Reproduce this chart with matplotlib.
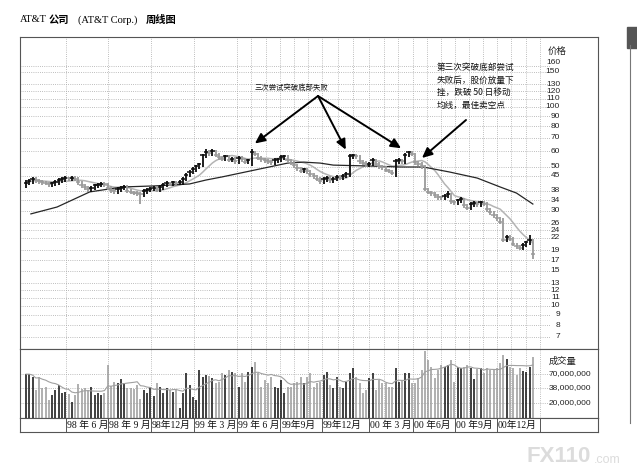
import numpy as np
import pandas as pd
import matplotlib
matplotlib.use("Agg")
import matplotlib.pyplot as plt
from matplotlib.ticker import NullLocator
from matplotlib.lines import Line2D
from matplotlib.patches import Rectangle

CJK = ["Noto Sans CJK SC", "DejaVu Sans"]
SERIF = ["Liberation Serif", "Noto Sans CJK SC"]
NARROW = ["Liberation Sans Narrow", "Liberation Sans", "DejaVu Sans"]

# weekly bars, AT&T, Mar 1998 - Feb 2001
closes = [
    41.5, 42.5, 43.5, 43.0, 42.5, 41.8, 41.5, 41.0, 41.3, 42.0,
    42.8, 43.4, 44.0, 43.7, 44.1, 43.6, 42.0, 40.5, 39.4, 38.5,
    39.3, 40.3, 40.6, 41.2, 41.0, 39.3, 38.1, 37.7, 38.7, 39.3,
    39.7, 37.9, 37.4, 37.0, 36.8, 36.4, 37.7, 38.3, 38.9, 39.3,
    38.7, 39.5, 40.6, 41.5, 41.2, 41.8, 41.5, 42.0, 43.6, 45.7,
    47.2, 48.8, 50.3, 51.4, 57.1, 59.7, 58.7, 60.2, 57.6, 56.1,
    55.0, 56.4, 54.3, 55.0, 53.5, 55.6, 54.5, 53.0, 53.9, 59.2,
    58.1, 55.6, 54.5, 54.1, 53.5, 52.9, 54.1, 54.5, 56.1, 56.4,
    54.0, 52.4, 50.9, 49.3, 47.8, 48.6, 47.4, 46.0, 44.9, 43.6,
    42.5, 43.4, 44.1, 42.7, 43.5, 44.6, 44.1, 45.1, 46.0, 56.6,
    57.1, 56.6, 53.5, 52.4, 51.4, 51.9, 54.0, 51.9, 50.4, 49.8,
    48.3, 47.7, 46.7, 53.5, 54.1, 53.5, 57.6, 59.2, 58.1, 52.9,
    51.9, 50.4, 38.6, 37.4, 36.9, 36.1, 35.3, 35.1, 35.8, 36.3,
    33.7, 33.3, 33.9, 34.5, 32.2, 31.2, 32.5, 32.9, 32.5, 33.1,
    32.7, 30.6, 29.6, 28.5, 27.5, 26.5, 21.5, 22.3, 21.8, 20.5,
    19.9, 19.6, 20.3, 20.9, 21.5, 18.2,
]
highs = [
    43.0, 43.4, 44.4, 44.2, 43.6, 43.1, 42.4, 42.1, 42.1, 42.8,
    43.7, 44.3, 44.9, 44.7, 45.0, 44.8, 44.3, 42.6, 41.1, 40.0,
    40.1, 41.1, 41.4, 42.0, 41.8, 41.6, 39.9, 38.7, 39.5, 40.1,
    40.5, 40.3, 38.5, 38.0, 37.6, 37.4, 38.5, 39.1, 39.7, 40.1,
    39.9, 40.3, 41.4, 42.3, 42.1, 42.6, 42.4, 42.8, 44.5, 46.6,
    48.1, 49.8, 51.3, 52.4, 58.2, 61.5, 60.6, 61.4, 61.1, 58.5,
    56.9, 57.5, 57.2, 56.1, 55.8, 56.7, 56.4, 55.3, 55.0, 61.3,
    60.1, 59.0, 56.4, 55.3, 54.9, 54.3, 55.2, 55.6, 57.2, 57.5,
    57.2, 54.8, 53.2, 51.7, 50.0, 49.6, 49.3, 48.1, 46.7, 45.6,
    44.3, 44.3, 45.0, 44.8, 44.4, 45.5, 45.3, 46.0, 46.9, 57.7,
    58.2, 58.0, 57.4, 54.3, 53.2, 52.9, 55.1, 54.8, 52.7, 51.2,
    50.5, 49.0, 48.4, 54.6, 55.2, 54.9, 58.8, 60.4, 60.1, 59.0,
    53.7, 52.7, 51.2, 39.2, 38.0, 37.5, 36.6, 35.8, 36.5, 37.9,
    36.8, 34.2, 34.6, 35.2, 35.0, 32.7, 33.2, 33.6, 33.4, 33.8,
    33.6, 33.2, 31.1, 30.0, 28.9, 27.9, 27.6, 22.7, 22.6, 22.1,
    20.8, 20.2, 20.7, 21.3, 22.6, 21.8,
]
lows = [
    39.0, 40.3, 41.2, 41.7, 41.2, 40.5, 40.3, 39.8, 39.8, 40.1,
    40.7, 41.5, 42.1, 42.4, 42.4, 42.3, 40.7, 39.3, 38.2, 37.3,
    37.3, 38.1, 39.1, 39.4, 39.8, 38.1, 37.0, 36.6, 36.6, 37.5,
    38.1, 36.8, 36.3, 35.9, 35.7, 32.7, 35.3, 36.6, 37.2, 37.7,
    37.5, 37.5, 38.3, 39.4, 40.0, 40.0, 40.3, 40.3, 40.7, 42.3,
    44.3, 45.8, 47.3, 48.8, 49.9, 55.4, 56.9, 56.9, 55.9, 54.4,
    53.4, 53.4, 52.7, 52.7, 51.9, 51.9, 52.9, 51.4, 51.4, 50.4,
    56.4, 53.9, 52.9, 52.5, 51.9, 51.3, 51.3, 52.5, 52.9, 54.4,
    52.4, 50.8, 49.4, 47.8, 46.4, 46.4, 46.0, 44.6, 43.6, 42.3,
    41.2, 41.2, 42.1, 41.4, 41.4, 42.2, 42.8, 42.8, 43.7, 44.6,
    54.9, 54.9, 51.9, 50.8, 49.9, 49.9, 50.3, 50.3, 48.9, 48.3,
    46.9, 46.3, 45.3, 44.5, 51.9, 51.9, 51.9, 55.9, 56.4, 51.3,
    50.3, 48.9, 38.0, 36.3, 35.8, 35.0, 34.2, 34.0, 34.0, 34.7,
    32.7, 32.3, 32.3, 32.9, 31.2, 30.3, 30.3, 31.5, 31.5, 31.5,
    31.7, 29.7, 28.7, 27.6, 26.7, 25.7, 20.9, 20.9, 21.1, 19.9,
    19.3, 19.0, 19.0, 19.7, 20.3, 17.2,
]
# weekly volume, millions of shares
volumes_m = [
    69, 69, 61, 35, 61, 38, 40, 23, 28, 35,
    43, 31, 32, 29, 21, 28, 45, 37, 38, 35,
    40, 28, 31, 28, 31, 102, 41, 49, 47, 56,
    47, 38, 38, 37, 43, 24, 35, 31, 40, 27,
    47, 40, 31, 38, 35, 32, 35, 16, 31, 72,
    43, 26, 23, 82, 61, 66, 64, 58, 47, 49,
    72, 66, 82, 76, 72, 40, 72, 49, 76, 94,
    116, 72, 40, 54, 47, 61, 40, 38, 54, 31,
    40, 40, 47, 49, 61, 47, 61, 72, 40, 47,
    49, 66, 76, 43, 38, 61, 40, 38, 49, 72,
    89, 61, 47, 31, 35, 58, 72, 35, 54, 47,
    47, 40, 40, 89, 49, 54, 72, 72, 47, 47,
    58, 82, 190, 127, 94, 58, 82, 102, 94, 102,
    127, 49, 94, 89, 94, 102, 89, 56, 86, 89,
    72, 89, 82, 86, 89, 111, 157, 133, 94, 89,
    66, 89, 79, 76, 94, 144,
]
# long moving average (black line), read at these week positions
ma_long_weeks = [1.5, 9.5, 19.5, 29.5, 39.5, 50, 55, 60, 70, 80, 85, 90,
                 94, 104.5, 114.5, 121.5, 129.5, 138, 145, 150, 155]
ma_long_vals = [29.0, 31.4, 37.4, 39.6, 40.1, 41.0, 42.9, 44.5, 48.2, 52.2,
                52.8, 52.2, 51.0, 50.5, 49.9, 49.9, 47.1, 43.9, 39.6, 36.9, 32.5]

price_ticks = [160, 150, 130, 120, 110, 100, 90, 80, 70, 60, 50, 45, 38, 34,
               30, 26, 24, 22, 19, 17, 15, 13, 12, 11, 10, 9, 8, 7]
vol_ticks = [70e6, 38e6, 20e6]
vol_tick_labels = ["70,000,000", "38,000,000", "20,000,000"]

# quarter separators of the date strip (week index)
quarter_pos = [12.2, 25.1, 38.2, 51.4, 64.5, 77.7, 90.5, 104.9, 118.3,
               131.2, 144.0, 157.2]
quarter_labels = ["98 年 6 月", "98 年 9 月", "98年12月", "99 年 3 月",
                  "99 年 6 月", "99年9月", "99年12月", "00 年 3 月",
                  "00 年6月", "00 年9月", "00年12月"]

W, H = 637, 475
fig = plt.figure(figsize=(W / 100, H / 100), dpi=100)


def fx(px):
    return px / W


def fy(py):
    return 1 - py / H


X0, DX = 26.0, 3.27          # pixel of week 0, pixels per week
XLIM = ((20 - X0) / DX, (598 - X0) / DX)
GRID_R = (550 - X0) / DX
FRAME = "#555555"
GRID = dict(colors="#a8a8a8", linestyles=(0, (1, 1.6)), linewidths=0.6, zorder=0)

ax_p = fig.add_axes([fx(20), fy(349), fx(598) - fx(20), fy(37) - fy(349)])
ax_v = fig.add_axes([fx(20), fy(418), fx(598) - fx(20), fy(349) - fy(418)])
ax_l = fig.add_axes([fx(20), fy(432), fx(598) - fx(20), fy(418) - fy(432)])

for ax in (ax_p, ax_v, ax_l):
    ax.set_xlim(*XLIM)
    ax.set_xticks([])
    ax.set_yticks([])
    for s in ax.spines.values():
        s.set_color(FRAME)
        s.set_linewidth(0.8)

# vertical grid: quarters, then months from 99/6 on
vgrid = list(quarter_pos[:4])
for a, b in zip(quarter_pos[4:-1], quarter_pos[5:]):
    vgrid += [a, a + (b - a) / 3, a + 2 * (b - a) / 3]
vgrid.append(quarter_pos[-1])

# ---- price panel ----
ax_p.set_yscale("log")
ax_p.set_ylim(6.07, 224.7)
ax_p.yaxis.set_major_locator(NullLocator())
ax_p.yaxis.set_minor_locator(NullLocator())
ax_p.hlines(price_ticks, XLIM[0], GRID_R, **GRID)
ax_p.vlines(vgrid, 6.07, 224.7, **GRID)

weeks = np.arange(len(closes))
c = np.array(closes)
hi = np.array(highs)
lo = np.array(lows)
prev = np.r_[c[0], c[:-1]]
up = c >= prev

ma_short = pd.Series(c).rolling(10, min_periods=1).mean()
ax_p.plot(weeks, ma_short, color="#b4b4b4", lw=1.1, zorder=2)
ax_p.plot(ma_long_weeks, ma_long_vals, color="#262626", lw=0.9, zorder=2)

for mask, col in ((~up, "#9a9a9a"), (up, "#0d0d0d")):
    ax_p.vlines(weeks[mask], lo[mask], hi[mask], colors=col, lw=1.3, zorder=3)
    ax_p.hlines(c[mask], weeks[mask] - 0.65, weeks[mask] + 0.65, colors=col,
                lw=1.1, zorder=3)

lab_x = (560 - X0) / DX
for p in price_ticks:
    dy = 3 if p == 160 else 0
    ax_p.annotate(str(p), xy=(lab_x, p), xytext=(0, dy),
                  textcoords="offset points", ha="right", va="center",
                  fontsize=6.0, family=NARROW, color="#222")
fig.text(fx(548), fy(51), "价格", ha="left", va="center", fontsize=6.8,
         family=CJK, color="#222")

# ---- volume panel ----
vol = np.array(volumes_m) * 1e6
VBOT, VTOP = 10.5e6, 203e6
ax_v.set_yscale("log")
ax_v.set_ylim(VBOT, VTOP)
ax_v.yaxis.set_major_locator(NullLocator())
ax_v.yaxis.set_minor_locator(NullLocator())
ax_v.hlines(vol_ticks, XLIM[0], GRID_R, **GRID)
ax_v.vlines(vgrid, VBOT, VTOP, **GRID)
for mask, col in ((~up, "#9a9a9a"), (up, "#0d0d0d")):
    ax_v.vlines(weeks[mask], VBOT, vol[mask], colors=col, lw=1.1, zorder=3)
vol_ma = pd.Series(vol).rolling(10, min_periods=1).mean()
ax_v.plot(weeks, vol_ma, color="#a0a0a0", lw=0.8, zorder=4)

vlab_x = (591 - X0) / DX
for v, t in zip(vol_ticks, vol_tick_labels):
    ax_v.text(vlab_x, v, t, ha="right", va="center", fontsize=6.0,
              family=NARROW, color="#222")
fig.text(fx(549), fy(361), "成交量", ha="left", va="center", fontsize=6.7,
         family=CJK, color="#222")

# ---- date strip ----
ax_l.set_ylim(0, 1)
ax_l.vlines(quarter_pos, 0, 1, colors=FRAME, lw=0.7)
for q, t in zip(quarter_pos, quarter_labels):
    ax_l.text(q + 0.35, 0.5, t, ha="left", va="center", fontsize=7,
              family=SERIF, color="#111")

# ---- title ----
fig.text(fx(20), fy(20), "AT&T", ha="left", va="center", fontsize=7.5,
         family=SERIF)
fig.text(fx(49), fy(20), "公司", ha="left", va="center", fontsize=7.4,
         family=CJK, weight="bold")
fig.text(fx(78), fy(20), "(AT&T Corp.)", ha="left", va="center", fontsize=7.5,
         family=SERIF)
fig.text(fx(146), fy(20), "周线图", ha="left", va="center", fontsize=7.4,
         family=CJK, weight="bold")

# ---- annotations ----
arrow = dict(arrowstyle="-|>,head_length=0.6,head_width=0.28", color="black",
             lw=1.4, mutation_scale=10, shrinkA=0, shrinkB=0)
fig.text(fx(291), fy(88), "三次尝试突破底部失败", ha="center", va="center",
         fontsize=5.3, family=CJK, color="#111")
for tip in ((70.0, 65.5), (97.8, 61.0), (114.7, 62.0)):
    ax_p.annotate("", xy=tip, xycoords="data", xytext=(fx(318), fy(96)),
                  textcoords="figure fraction", arrowprops=arrow)

fig.text(fx(437), fy(63), "第三次突破底部尝试\n失败后，股价放量下\n挫，跌破 50 日移动\n均线，最佳卖空点",
         ha="left", va="top", fontsize=6.2, family=CJK, color="#111",
         linespacing=1.5)
ax_p.annotate("", xy=(121.1, 55.4), xycoords="data", xytext=(fx(466), fy(120)),
              textcoords="figure fraction", arrowprops=arrow)

# ---- page edge & watermark ----
fig.add_artist(Line2D([fx(630), fx(630)], [fy(45), fy(423)], color="#777",
                      lw=0.8))
fig.add_artist(Rectangle((fx(627), fy(48)), fx(10), 21 / H, color="#555",
                         transform=fig.transFigure))
fig.text(fx(527), fy(457), "FX110", ha="left", va="center", fontsize=16,
         family=["Liberation Sans", "DejaVu Sans"], weight="bold", color="#dcdcdc")
fig.text(fx(594), fy(460), ".com", ha="left", va="center", fontsize=9,
         family=["Liberation Sans", "DejaVu Sans"], color="#dcdcdc")

fig.savefig("out.png", dpi=100)
